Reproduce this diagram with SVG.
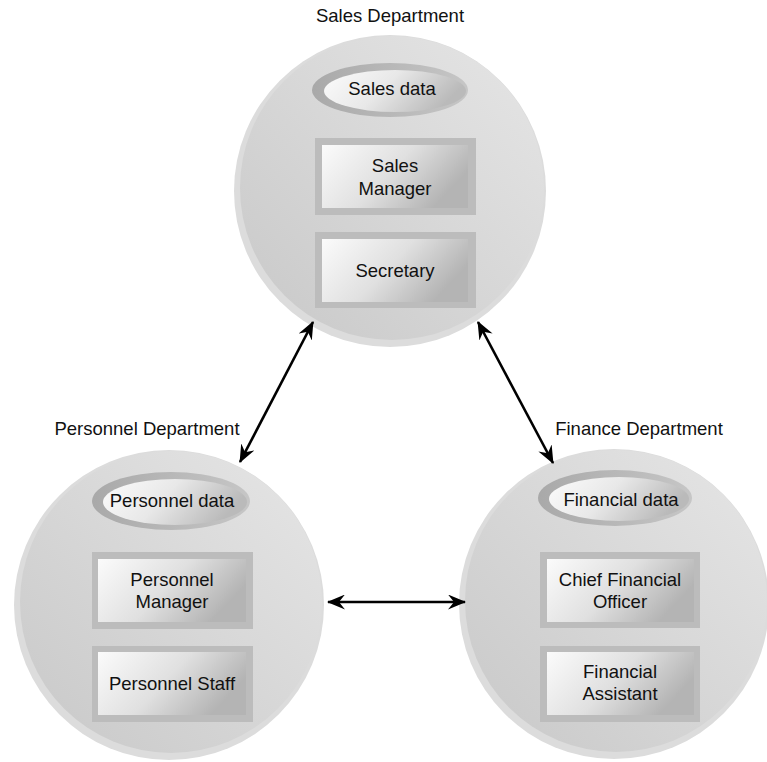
<svg xmlns="http://www.w3.org/2000/svg" width="767" height="762" viewBox="0 0 767 762">
<defs>
<linearGradient id="body" x1="1" y1="0" x2="0" y2="1">
<stop offset="0" stop-color="#e6e6e6"/><stop offset="1" stop-color="#c8c8c8"/>
</linearGradient>
<linearGradient id="ringG" x1="0" y1="0" x2="1" y2="0">
<stop offset="0" stop-color="#a9a9a9"/><stop offset="1" stop-color="#c6c6c6"/>
</linearGradient>
<linearGradient id="ellIn" x1="0" y1="0" x2="1" y2="0.3">
<stop offset="0" stop-color="#fcfcfc"/><stop offset="0.5" stop-color="#e8e8e8"/><stop offset="1" stop-color="#bababa"/>
</linearGradient>
<linearGradient id="boxIn" x1="0" y1="0" x2="1" y2="0.4">
<stop offset="0" stop-color="#fbfbfb"/><stop offset="0.55" stop-color="#e0e0e0"/><stop offset="1" stop-color="#b4b4b4"/>
</linearGradient>
<marker id="ah" viewBox="0 0 18 15" refX="17" refY="7.5" markerWidth="18" markerHeight="15" markerUnits="userSpaceOnUse" orient="auto-start-reverse">
<path d="M0,0 L18,7.5 L0,15 L6,7.5 Z" fill="#000"/>
</marker>
</defs>
<style>
.rim{fill:#dcdcdc}
.body{fill:url(#body)}
.ring{fill:url(#ringG)}
.ein{fill:url(#ellIn)}
.bout{fill:#bcbcbc}
.bin{fill:url(#boxIn)}
text{font-family:"Liberation Sans",Arial,sans-serif;font-size:18.5px;fill:#111;text-anchor:middle}
.conn{stroke:#000;stroke-width:2.6;fill:none;marker-start:url(#ah);marker-end:url(#ah)}
</style>

<g id="sales">
<text x="390" y="22">Sales Department</text>
<circle class="rim" cx="390" cy="191" r="156"/>
<circle class="body" cx="392" cy="188" r="152"/>
<ellipse class="ring" cx="390" cy="90" rx="78" ry="27"/>
<ellipse class="ein" cx="395" cy="91" rx="71" ry="21"/>
<text x="392" y="95">Sales data</text>
<rect class="bout" x="315" y="138" width="161" height="77"/>
<rect class="bin" x="322" y="145" width="146" height="63"/>
<text x="395" y="172">Sales</text>
<text x="395" y="195">Manager</text>
<rect class="bout" x="315" y="232" width="161" height="76"/>
<rect class="bin" x="322" y="239" width="146" height="63"/>
<text x="395" y="277">Secretary</text>
</g>

<g id="personnel">
<text x="147" y="435">Personnel Department</text>
<circle class="rim" cx="169" cy="605" r="155"/>
<circle class="body" cx="171" cy="602" r="151"/>
<ellipse class="ring" cx="171" cy="501" rx="79" ry="29"/>
<ellipse class="ein" cx="175" cy="502" rx="72" ry="23"/>
<text x="172" y="507">Personnel data</text>
<rect class="bout" x="92" y="552" width="161" height="77"/>
<rect class="bin" x="98" y="559" width="148" height="63"/>
<text x="172" y="586">Personnel</text>
<text x="172" y="608">Manager</text>
<rect class="bout" x="92" y="646" width="161" height="76"/>
<rect class="bin" x="98" y="652" width="148" height="63"/>
<text x="172" y="690">Personnel Staff</text>
</g>

<g id="finance">
<text x="639" y="435">Finance Department</text>
<circle class="rim" cx="614" cy="604" r="155"/>
<circle class="body" cx="616" cy="601" r="151"/>
<ellipse class="ring" cx="615" cy="498" rx="77" ry="28"/>
<ellipse class="ein" cx="619" cy="499" rx="70" ry="22"/>
<text x="621" y="506">Financial data</text>
<rect class="bout" x="540" y="552" width="160" height="76"/>
<rect class="bin" x="547" y="559" width="147" height="63"/>
<text x="620" y="586">Chief Financial</text>
<text x="620" y="608">Officer</text>
<rect class="bout" x="540" y="646" width="160" height="76"/>
<rect class="bin" x="547" y="652" width="147" height="63"/>
<text x="620" y="678">Financial</text>
<text x="620" y="700">Assistant</text>
</g>

<g id="connectors">
<line class="conn" x1="313" y1="322" x2="240" y2="462"/>
<line class="conn" x1="478" y1="322" x2="553" y2="463"/>
<line class="conn" x1="328" y1="602" x2="465" y2="602"/>
</g>
</svg>
